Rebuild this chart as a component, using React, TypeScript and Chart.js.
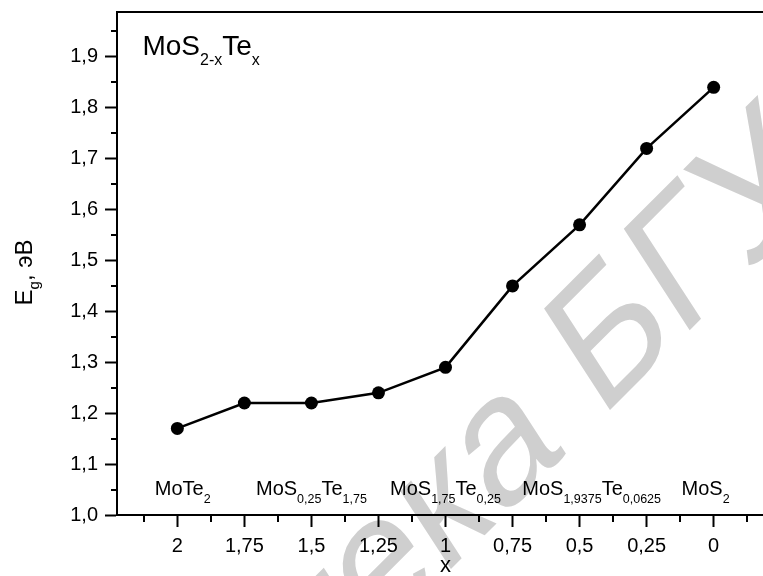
import React, { useEffect, useRef } from 'react';
import { Chart, registerables } from 'chart.js';

Chart.register(...registerables);

const FONT = '"Liberation Sans", Arial, Helvetica, sans-serif';

// ---- data ----
const xValues = [2, 1.75, 1.5, 1.25, 1, 0.75, 0.5, 0.25, 0];
const egValues = [1.17, 1.22, 1.22, 1.24, 1.29, 1.45, 1.57, 1.72, 1.84];

const xTickValues = [2, 1.75, 1.5, 1.25, 1, 0.75, 0.5, 0.25, 0];
const xTickLabels = ['2', '1,75', '1,5', '1,25', '1', '0,75', '0,5', '0,25', '0'];
const xMinorTicks = [2.125, 1.875, 1.625, 1.375, 1.125, 0.875, 0.625, 0.375, 0.125, -0.125];

const yTickValues = [1.0, 1.1, 1.2, 1.3, 1.4, 1.5, 1.6, 1.7, 1.8, 1.9];
const yTickLabels = ['1,0', '1,1', '1,2', '1,3', '1,4', '1,5', '1,6', '1,7', '1,8', '1,9'];
const yMinorTicks = [1.05, 1.15, 1.25, 1.35, 1.45, 1.55, 1.65, 1.75, 1.85, 1.95];

type Run = { t: string; sub?: boolean };

const compoundNames: Run[][] = [
  [{ t: 'MoTe' }, { t: '2', sub: true }],
  [{ t: 'MoS' }, { t: '0,25', sub: true }, { t: 'Te' }, { t: '1,75', sub: true }],
  [{ t: 'MoS' }, { t: '1,75', sub: true }, { t: 'Te' }, { t: '0,25', sub: true }],
  [{ t: 'MoS' }, { t: '1,9375', sub: true }, { t: 'Te' }, { t: '0,0625', sub: true }],
  [{ t: 'MoS' }, { t: '2', sub: true }],
];
const compoundX = [1.98, 1.5, 1.0, 0.455, 0.03];
const compoundY = 1.04;

const formulaTitle: Run[] = [{ t: 'MoS' }, { t: '2-x', sub: true }, { t: 'Te' }, { t: 'x', sub: true }];
const formulaX = 2.13;
const formulaY = 1.904;

const yTitle: Run[] = [{ t: 'E' }, { t: 'g', sub: true }, { t: ', эВ' }];
const xTitle = 'x';
const watermarkLead = 'Библиотека ';
const watermarkTail = 'БГУ';

// ---- helpers ----
function drawRuns(
  ctx: CanvasRenderingContext2D,
  runs: Run[],
  x: number,
  y: number,
  size: number,
  subSize: number,
  subDy: number,
  align: 'left' | 'center'
) {
  const widthOf = (r: Run) => {
    ctx.font = `${r.sub ? subSize : size}px ${FONT}`;
    return ctx.measureText(r.t).width;
  };
  const total = runs.reduce((s, r) => s + widthOf(r), 0);
  let cx = align === 'center' ? x - total / 2 : x;
  ctx.textAlign = 'left';
  ctx.textBaseline = 'alphabetic';
  for (const r of runs) {
    const w = widthOf(r);
    ctx.font = `${r.sub ? subSize : size}px ${FONT}`;
    ctx.fillText(r.t, cx, r.sub ? y + subDy : y);
    cx += w;
  }
}

const decorPlugin = {
  id: 'decor',
  beforeDraw(chart: any) {
    const ctx: CanvasRenderingContext2D = chart.ctx;
    ctx.save();
    ctx.fillStyle = '#cfcfcf';
    const size = 172;
    ctx.font = `${size}px ${FONT}`;
    const pre = ctx.measureText(watermarkLead).width;
    ctx.translate(600, 420);
    ctx.rotate((-45 * Math.PI) / 180);
    ctx.transform(1, 0, -Math.tan((12 * Math.PI) / 180), 1, 0, 0);
    ctx.textBaseline = 'alphabetic';
    ctx.textAlign = 'left';
    ctx.fillText(watermarkLead + watermarkTail, -pre, 0);
    ctx.restore();
  },
  afterDraw(chart: any) {
    const ctx: CanvasRenderingContext2D = chart.ctx;
    const { left, right, top, bottom } = chart.chartArea;
    const xs = chart.scales.x;
    const ys = chart.scales.y;
    ctx.save();
    ctx.strokeStyle = '#000';
    ctx.lineWidth = 2;
    // top and right frame
    ctx.beginPath();
    ctx.moveTo(left - 1, top);
    ctx.lineTo(right, top);
    ctx.lineTo(right, bottom);
    ctx.stroke();
    // minor ticks
    ctx.beginPath();
    for (const v of xMinorTicks) {
      const px = Math.round(xs.getPixelForValue(v));
      ctx.moveTo(px, bottom);
      ctx.lineTo(px, bottom + 7);
    }
    for (const v of yMinorTicks) {
      const py = Math.round(ys.getPixelForValue(v));
      ctx.moveTo(left, py);
      ctx.lineTo(left - 6, py);
    }
    ctx.stroke();

    ctx.fillStyle = '#000';
    // formula label
    drawRuns(ctx, formulaTitle, xs.getPixelForValue(formulaX), ys.getPixelForValue(formulaY), 28, 16, 10, 'left');
    // compound labels
    compoundNames.forEach((runs, i) => {
      drawRuns(ctx, runs, xs.getPixelForValue(compoundX[i]), ys.getPixelForValue(compoundY), 20, 12.5, 8, 'center');
    });
    // y title (rotated)
    ctx.save();
    ctx.translate(32, (top + bottom) / 2 + 9);
    ctx.rotate(-Math.PI / 2);
    drawRuns(ctx, yTitle, 0, 0, 24, 15, 7, 'center');
    ctx.restore();
    ctx.restore();
  },
};

export default function App() {
  const canvasRef = useRef<HTMLCanvasElement | null>(null);

  useEffect(() => {
    if (!canvasRef.current) return;
    const chart = new Chart(canvasRef.current, {
      type: 'line',
      data: {
        datasets: [
          {
            label: 'Eg',
            data: xValues.map((x, i) => ({ x, y: egValues[i] })),
            borderColor: '#000',
            backgroundColor: '#000',
            borderWidth: 2.5,
            pointRadius: 6.5,
            pointBorderWidth: 0,
            pointBackgroundColor: '#000',
            tension: 0,
          },
        ],
      },
      options: {
        animation: false,
        responsive: false,
        events: [],
        layout: { padding: { left: 0, top: 12, right: 16, bottom: 0 } },
        plugins: {
          legend: { display: false },
          tooltip: { enabled: false },
          title: { display: false },
        },
        scales: {
          x: {
            type: 'linear',
            reverse: true,
            min: -0.225,
            max: 2.225,
            afterBuildTicks: (s: any) => {
              s.ticks = xTickValues.map((v) => ({ value: v }));
            },
            afterFit: (s: any) => {
              s.height = 75;
              s.paddingLeft = 0;
              s.paddingRight = 0;
            },
            ticks: {
              autoSkip: false,
              maxRotation: 0,
              padding: 7,
              color: '#000',
              font: { family: FONT, size: 20 },
              callback: (v: any, i: number) => xTickLabels[i] ?? '',
            },
            grid: {
              drawOnChartArea: false,
              drawTicks: true,
              tickLength: 12,
              tickWidth: 2,
              tickColor: '#000',
            },
            border: { display: true, color: '#000', width: 2 },
            title: {
              display: true,
              text: xTitle,
              color: '#000',
              font: { family: FONT, size: 22 },
              padding: { top: 0, bottom: 11 },
            },
          },
          y: {
            type: 'linear',
            min: 1.0,
            max: 1.988,
            afterBuildTicks: (s: any) => {
              s.ticks = yTickValues.map((v) => ({ value: v }));
            },
            afterFit: (s: any) => {
              s.width = 117;
              s.paddingTop = 0;
              s.paddingBottom = 0;
            },
            ticks: {
              padding: 7,
              color: '#000',
              font: { family: FONT, size: 20 },
              callback: (v: any, i: number) => yTickLabels[i] ?? '',
            },
            grid: {
              drawOnChartArea: false,
              drawTicks: true,
              tickLength: 12,
              tickWidth: 2,
              tickColor: '#000',
            },
            border: { display: true, color: '#000', width: 2 },
          },
        },
      },
      plugins: [decorPlugin],
    } as any);
    return () => chart.destroy();
  }, []);

  return (
    <div style={{ position: 'fixed', left: 0, top: 0, width: 790, height: 590, background: '#fff' }}>
      <canvas ref={canvasRef} width={790} height={590} style={{ display: 'block', width: 790, height: 590 }} />
    </div>
  );
}
